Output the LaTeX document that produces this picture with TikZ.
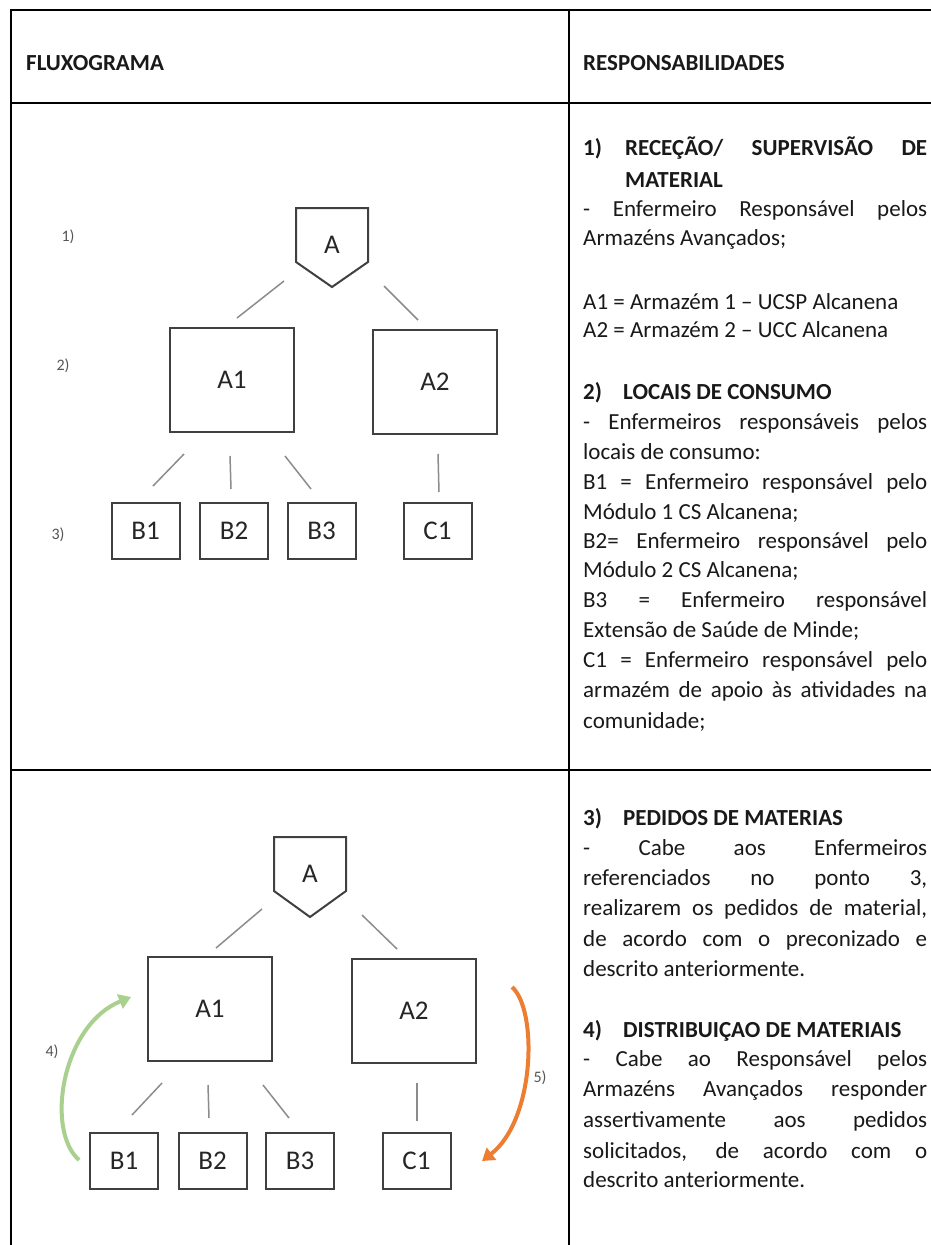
\documentclass[tikz,border=0pt]{standalone}
\usepackage{fontspec}
\setmainfont{Carlito}
\usetikzlibrary{arrows.meta}
\definecolor{boxc}{HTML}{404040}
\definecolor{connc}{HTML}{8C8C8C}
\definecolor{labc}{HTML}{555555}
\definecolor{greenar}{HTML}{A9D08E}
\definecolor{orangear}{HTML}{ED7D31}
\newcommand\jline[1]{\hbox to 344pt{#1}}
\begin{document}
\begin{tikzpicture}[x=1pt,y=-1pt,
  tbl/.style={line width=2pt, draw=black},
  big/.style={draw=boxc, line width=2pt, minimum width=124pt, minimum height=104pt, inner sep=0pt, font=\fontsize{27}{30}\selectfont, text=black!85},
  small/.style={draw=boxc, line width=2pt, minimum width=68pt, minimum height=56pt, inner sep=0pt, font=\fontsize{27}{30}\selectfont, text=black!85},
  conn/.style={draw=connc, line width=1.5pt},
  pent/.style={draw=boxc, line width=2pt, line join=miter},
  lab/.style={font=\fontsize{16}{18}\selectfont, text=labc, inner sep=0pt},
  body/.style={anchor=base west, inner sep=0pt, font=\fontsize{23}{28}\selectfont, text=black!90},
  head/.style={anchor=base west, inner sep=0pt, font=\fontsize{23}{28}\selectfont\bfseries, text=black!90}]
\useasboundingbox (0,0) rectangle (930,1245);
\fill[white] (0,0) rectangle (930,1245);

% table
\draw[tbl] (10.5,1260) -- (10.5,10) -- (945,10);
\draw[tbl] (10.5,102.5) -- (945,102.5);
\draw[tbl] (10.5,769.5) -- (945,769.5);
\draw[tbl] (569,10) -- (569,1260);

\node[head] (h1) at (26,70) {FLUXOGRAMA};
\node[head] (h2) at (583,70) {RESPONSABILIDADES};

% ---------- diagram 1 ----------
\draw[pent] (296,208) -- (368,208) -- (368,262) -- (332,287) -- (296,262) -- cycle;
\node[font=\fontsize{27}{30}\selectfont, text=black!85] (A) at (332,245) {A};
\node[big] (A1) at (232,380) {A1};
\node[big] (A2) at (435,381.5) {A2};
\node[small] (B1) at (145.5,531) {B1};
\node[small] (B2) at (234,531) {B2};
\node[small] (B3) at (321.5,531) {B3};
\node[small] (C1) at (437.5,531) {C1};
\coordinate (a1s) at (284,281); \coordinate (a1e) at (237,318);
\coordinate (a2s) at (384,286); \coordinate (a2e) at (418,320);
\coordinate (b1s) at (184,454); \coordinate (b1e) at (153,486);
\coordinate (b2s) at (230,456); \coordinate (b2e) at (231,489);
\coordinate (b3s) at (285,456); \coordinate (b3e) at (311,489);
\coordinate (c1s) at (438,454); \coordinate (c1e) at (439,492);
\draw[conn] (a1s) -- (a1e);
\draw[conn] (a2s) -- (a2e);
\draw[conn] (b1s) -- (b1e);
\draw[conn] (b2s) -- (b2e);
\draw[conn] (b3s) -- (b3e);
\draw[conn] (c1s) -- (c1e);
\node[lab] (l1) at (68,237) {1)};
\node[lab] (l2) at (63,366) {2)};
\node[lab] (l3) at (58,535) {3)};

% ---------- diagram 2 ----------
\draw[pent] (274,837) -- (346,837) -- (346,891) -- (310,917) -- (274,891) -- cycle;
\node[font=\fontsize{27}{30}\selectfont, text=black!85] (Ab) at (310,874) {A};
\node[big] (A1b) at (210,1009) {A1};
\node[big] (A2b) at (414,1010.5) {A2};
\node[small] (B1b) at (124,1160.5) {B1};
\node[small] (B2b) at (212.5,1160.5) {B2};
\node[small] (B3b) at (300,1160.5) {B3};
\node[small] (C1b) at (416.5,1160.5) {C1};
\coordinate (a1sb) at (262,909); \coordinate (a1eb) at (216,948);
\coordinate (a2sb) at (362,915); \coordinate (a2eb) at (397,949);
\coordinate (b1sb) at (162,1083); \coordinate (b1eb) at (132,1115);
\coordinate (b2sb) at (208,1085); \coordinate (b2eb) at (209,1118);
\coordinate (b3sb) at (263,1085); \coordinate (b3eb) at (289,1118);
\coordinate (c1sb) at (417,1083); \coordinate (c1eb) at (417,1121);
\draw[conn] (a1sb) -- (a1eb);
\draw[conn] (a2sb) -- (a2eb);
\draw[conn] (b1sb) -- (b1eb);
\draw[conn] (b2sb) -- (b2eb);
\draw[conn] (b3sb) -- (b3eb);
\draw[conn] (c1sb) -- (c1eb);

\coordinate (gs) at (79,1160);
\coordinate (ge) at (131,997);
\draw[draw=greenar, line width=4pt, -{Triangle[length=12pt,width=15pt]}]
  (gs) .. controls (45,1130) and (62,1025) .. (ge);
\coordinate (os) at (512,987);
\coordinate (oe) at (482,1161);
\draw[draw=orangear, line width=4pt, -{Triangle[length=12pt,width=15pt]}]
  (os) .. controls (538,1010) and (535,1120) .. (oe);
\node[lab] (l4) at (52,1052) {4)};
\node[lab] (l5) at (540,1078) {5)};

% ---------- text column, row 2 ----------
\node[head] (t1) at (583,155) {\jline{\makebox[42pt][l]{1)}RECEÇÃO/ SUPERVISÃO DE}};
\node[head] (t2) at (625,187) {MATERIAL};
\node[body] (t3) at (583,216) {\jline{- Enfermeiro Responsável pelos}};
\node[body] (t4) at (583,245) {Armazéns Avançados;};
\node[body] (t5) at (583,309) {A1 = Armazém 1 – UCSP Alcanena};
\node[body] (t6) at (583,337) {A2 = Armazém 2 – UCC Alcanena};
\node[head] (t7) at (583,399) {\makebox[40pt][l]{2)}LOCAIS DE CONSUMO};
\node[body] (t8) at (583,429) {\jline{- Enfermeiros responsáveis pelos}};
\node[body] (t9) at (583,459) {locais de consumo:};
\node[body] (t10) at (583,489) {\jline{B1 = Enfermeiro responsável pelo}};
\node[body] (t11) at (583,519) {Módulo 1 CS Alcanena;};
\node[body] (t12) at (583,548) {\jline{B2= Enfermeiro responsável pelo}};
\node[body] (t13) at (583,577) {Módulo 2 CS Alcanena;};
\node[body] (t14) at (583,607) {\jline{B3 = Enfermeiro responsável}};
\node[body] (t15) at (583,637) {Extensão de Saúde de Minde;};
\node[body] (t16) at (583,667) {\jline{C1 = Enfermeiro responsável pelo}};
\node[body] (t17) at (583,697) {\jline{armazém de apoio às atividades na}};
\node[body] (t18) at (583,728) {comunidade;};

% ---------- text column, row 3 ----------
\node[head] (u1) at (583,825) {\makebox[40pt][l]{3)}PEDIDOS DE MATERIAS};
\node[body] (u2) at (583,855) {\jline{- Cabe aos Enfermeiros}};
\node[body] (u3) at (583,885) {\jline{referenciados no ponto 3,}};
\node[body] (u4) at (583,915) {\jline{realizarem os pedidos de material,}};
\node[body] (u5) at (583,946) {\jline{de acordo com o preconizado e}};
\node[body] (u6) at (583,976) {descrito anteriormente.};
\node[head] (u7) at (583,1037) {\makebox[40pt][l]{4)}DISTRIBUIÇAO DE MATERIAIS};
\node[body] (u8) at (583,1066) {\jline{- Cabe ao Responsável pelos}};
\node[body] (u9) at (583,1096) {\jline{Armazéns Avançados responder}};
\node[body] (u10) at (583,1127) {\jline{assertivamente aos pedidos}};
\node[body] (u11) at (583,1158) {\jline{solicitados, de acordo com o}};
\node[body] (u12) at (583,1187) {descrito anteriormente.};
\end{tikzpicture}
\end{document}
